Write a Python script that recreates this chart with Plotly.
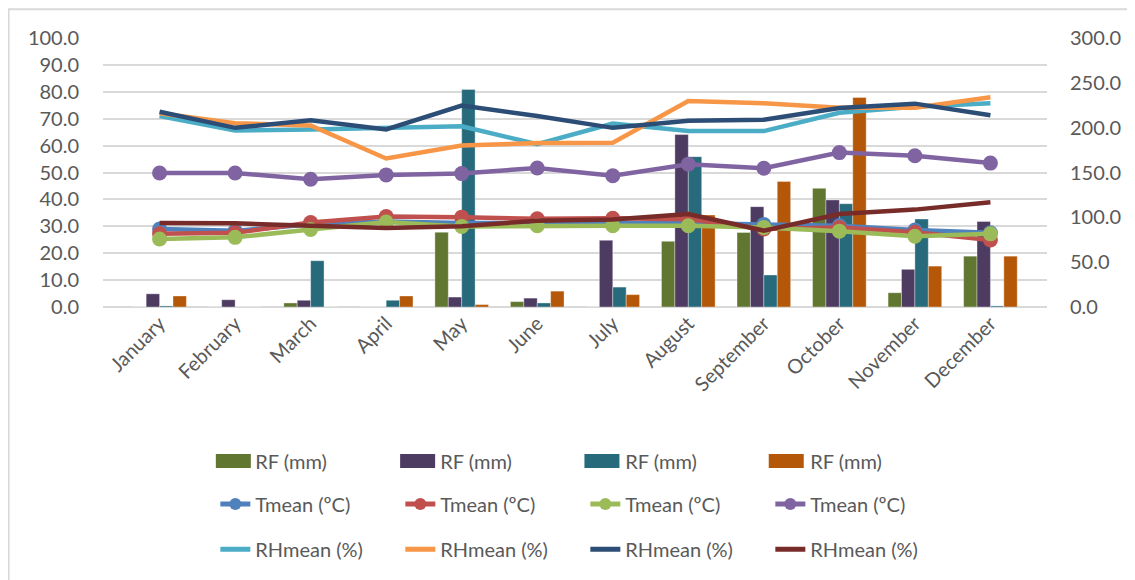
import plotly.graph_objects as go

months = ["January", "February", "March", "April", "May", "June", "July",
          "August", "September", "October", "November", "December"]

# Rainfall (four series)
rf_1 = [0, 0, 1.5, 0, 27.8, 2.0, 0, 24.4, 27.7, 44.1, 5.3, 18.9]
rf_2 = [4.9, 2.7, 2.5, 0, 3.7, 3.3, 24.8, 64.1, 37.3, 39.8, 14.0, 31.8]
rf_3 = [0.4, 0, 17.2, 2.5, 80.9, 1.5, 7.4, 55.9, 11.9, 38.4, 32.7, 0.4]
rf_4 = [4.1, 0, 0, 4.1, 0.9, 5.9, 4.6, 34.2, 46.7, 77.9, 15.2, 18.9]

# Mean temperature (four series)
t_1 = [29.0, 28.3, 30.8, 31.8, 31.2, 31.2, 31.0, 31.2, 30.7, 30.2, 28.6, 27.6]
t_2 = [27.2, 27.6, 31.4, 33.6, 33.4, 32.8, 33.0, 32.6, 29.0, 29.6, 27.8, 24.9]
t_3 = [25.3, 25.9, 28.8, 31.6, 29.9, 30.2, 30.2, 30.2, 29.6, 28.2, 26.3, 27.2]
t_4 = [49.8, 49.8, 47.5, 49.1, 49.6, 51.7, 48.8, 53.1, 51.6, 57.4, 56.2, 53.5]

# Mean relative humidity (four series)
rh_1 = [71.0, 65.6, 66.0, 66.6, 67.2, 60.5, 68.2, 65.4, 65.4, 72.2, 74.4, 75.7]
rh_2 = [72.0, 68.3, 67.5, 55.2, 60.0, 61.0, 61.1, 76.6, 75.7, 74.1, 74.1, 78.0]
rh_3 = [72.6, 66.6, 69.4, 66.0, 74.9, 71.0, 66.6, 69.2, 69.6, 74.0, 75.6, 71.3]
rh_4 = [31.2, 31.1, 30.2, 29.4, 30.0, 32.1, 32.5, 34.6, 28.4, 34.6, 36.2, 38.9]

FONT = "Lato"
GRAY = "#595959"
FS = 20

W, H = 1135, 580
ML, MR, MT, MB = 95, 96, 30, 281
PW, PH = W - ML - MR, H - MT - MB

fig = go.Figure()

bar_series = [(rf_1, "#617630"), (rf_2, "#4D3B62"), (rf_3, "#266A7B"), (rf_4, "#B55708")]
for vals, col in bar_series:
    fig.add_trace(go.Bar(x=months, y=vals, name="RF (mm)", marker_color=col,
                         marker_line=dict(color="rgba(255,255,255,0.6)", width=0.6),
                         showlegend=False))
    # legend text entry; its wide swatch is drawn as a shape below
    fig.add_trace(go.Scatter(x=[None], y=[None], name="RF (mm)", mode="lines",
                             line=dict(color="rgba(0,0,0,0)", width=2), legend="legend",
                             hoverinfo="skip"))

t_series = [(t_1, "#4F81BD"), (t_2, "#C0504D"), (t_3, "#9BBB59"), (t_4, "#8064A2")]
rh_series = [(rh_1, "#4BACC6"), (rh_2, "#F79646"), (rh_3, "#2C4D75"), (rh_4, "#772C2A")]

for vals, col in t_series:
    fig.add_trace(go.Scatter(x=months, y=vals, name="Tmean (ºC)", mode="lines+markers",
                             line=dict(color=col, width=4.5),
                             marker=dict(color=col, size=15), legend="legend2"))
for vals, col in rh_series:
    fig.add_trace(go.Scatter(x=months, y=vals, name="RHmean (%)", mode="lines",
                             line=dict(color=col, width=4.5), legend="legend3"))

# secondary (right) axis carrier
fig.add_trace(go.Scatter(x=[None], y=[None], yaxis="y2", showlegend=False,
                         hoverinfo="skip", mode="lines"))

LEG_X = 0.119
legend_common = dict(orientation="h", xref="paper", yref="container", x=LEG_X,
                     xanchor="left", yanchor="middle", entrywidth=140,
                     font=dict(family=FONT, size=FS, color=GRAY),
                     bgcolor="rgba(0,0,0,0)", traceorder="normal", itemsizing="constant")

fig.update_layout(
    width=W, height=H,
    paper_bgcolor="white", plot_bgcolor="white",
    margin=dict(l=ML, r=MR, t=MT, b=MB),
    barmode="group", bargap=0.29, bargroupgap=0,
    font=dict(family=FONT, color=GRAY),
    legend=dict(legend_common, y=0.219),
    legend2=dict(legend_common, y=0.145),
    legend3=dict(legend_common, y=0.067),
    xaxis=dict(type="category", tickangle=-45, tickfont=dict(size=FS, color=GRAY),
               showgrid=False, showline=False, ticks="", zeroline=False),
    yaxis=dict(range=[0, 100], dtick=10, tickformat=".1f", showgrid=True,
               gridcolor="#D9D9D9", gridwidth=1.5, zeroline=True, zerolinecolor="#D9D9D9",
               zerolinewidth=1.5, tickfont=dict(size=FS, color=GRAY), ticks="",
               ticklabelstandoff=23),
    yaxis2=dict(range=[0, 300], dtick=50, tickformat=".1f", overlaying="y", side="right",
                anchor="x", showgrid=False, zeroline=False, showline=False,
                tickfont=dict(size=FS, color=GRAY), ticks="", ticklabelstandoff=22),
)

# outer chart frame
fig.add_shape(type="rect", xref="paper", yref="paper", x0=-0.1, x1=1.3, y0=-1.5, y1=1.107,
              line=dict(color="#D9D9D9", width=2), layer="below")

# wide legend swatches for the rainfall entries (row 1 of the legend)
leg_left = ML + LEG_X * PW          # legend left edge in figure px
pitch = 184.3                       # legend entry pitch in px
row_y = H * (1 - 0.219)             # row centre, figure px from top
for i, (_, col) in enumerate(bar_series):
    sx0 = leg_left + 0.5 + i * pitch
    sx1 = sx0 + 35
    fig.add_shape(type="rect", xref="paper", yref="paper",
                  x0=(sx0 - ML) / PW, x1=(sx1 - ML) / PW,
                  y0=1 - (row_y + 7 - MT) / PH, y1=1 - (row_y - 7 - MT) / PH,
                  fillcolor=col, line=dict(width=0))

fig.write_html("out.html")
